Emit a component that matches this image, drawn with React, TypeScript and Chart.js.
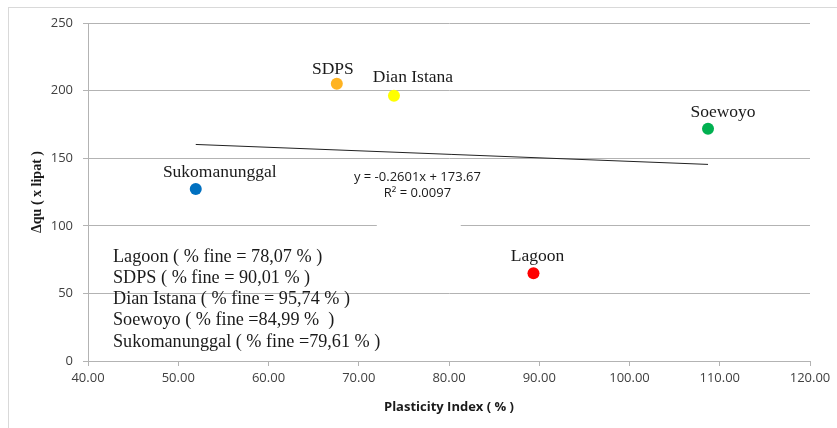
import React, { useEffect, useRef } from "react";
import { Chart, registerables } from "chart.js";

Chart.register(...registerables);

// ---- data ----
const sites = ["Lagoon", "SDPS", "Dian Istana", "Soewoyo", "Sukomanunggal"];
const plasticityIndex = [89.36, 67.57, 73.9, 108.7, 51.94];
const deltaQu = [64.9, 205.0, 196.2, 171.7, 127.3];
const fineNotes = [
  "Lagoon ( % fine = 78,07 % )",
  "SDPS ( % fine = 90,01 % )",
  "Dian Istana ( % fine = 95,74 % )",
  "Soewoyo ( % fine =84,99 %  )",
  "Sukomanunggal ( % fine =79,61 % )",
];
const trendX = [51.94, 108.7];
const trendY = [160.16, 145.4];
const equationLines = ["y = -0.2601x + 173.67", "R\u00B2 = 0.0097"];
const xAxisTitle = "Plasticity Index ( % )";
const yAxisTitle = "\u0394qu ( x lipat )";
const xMin = 40, xMax = 120, xStep = 10;
const yMin = 0, yMax = 250, yStep = 50;

// ---- styles ----
const pointColors = ["#FF0000", "#FFB321", "#FFFF00", "#00B050", "#0070C0"];
const labelOffsets: Record<string, [number, number]> = {
  Lagoon: [4, -17],
  SDPS: [-4, -14],
  "Dian Istana": [19, -18],
  Soewoyo: [15, -16],
  Sukomanunggal: [24, -16],
};
const SERIF = '"Liberation Serif", "Times New Roman", serif';
const SANS = '"Open Sans", Calibri, sans-serif';
const GRID = "#b3b3b3";

const annotPlugin = {
  id: "annot",
  beforeDraw(chart: any) {
    const ctx = chart.ctx;
    ctx.save();
    ctx.fillStyle = "#ffffff";
    ctx.fillRect(0, 0, chart.width, chart.height);
    ctx.strokeStyle = "#d9d9d9";
    ctx.lineWidth = 1;
    ctx.strokeRect(8.5, 7.5, chart.width + 20, chart.height + 20);
    ctx.restore();
  },
  beforeDatasetsDraw(chart: any) {
    const { ctx, scales } = chart;
    const x0 = scales.x.getPixelForValue(72.0);
    const x1 = scales.x.getPixelForValue(81.3);
    const y = scales.y.getPixelForValue(100);
    ctx.save();
    ctx.fillStyle = "#ffffff";
    ctx.fillRect(x0, y - 3, x1 - x0, 6);
    ctx.restore();
  },
  afterDatasetsDraw(chart: any) {
    const { ctx, scales, chartArea } = chart;
    ctx.save();
    // point labels
    ctx.font = `17.5px ${SERIF}`;
    ctx.fillStyle = "#1a1a1a";
    ctx.textAlign = "center";
    ctx.textBaseline = "middle";
    sites.forEach((name, i) => {
      const meta = chart.getDatasetMeta(i);
      const el = meta.data[0];
      const [dx, dy] = labelOffsets[name];
      ctx.fillText(name, el.x + dx, el.y + dy);
    });
    // fine notes
    ctx.font = `18.2px ${SERIF}`;
    ctx.textAlign = "left";
    fineNotes.forEach((t, i) => {
      ctx.fillText(t, chartArea.left + 25, chartArea.top + 234 + i * 21.2);
    });
    // equation
    ctx.font = `13px ${SANS}`;
    ctx.textAlign = "center";
    const ex = scales.x.getPixelForValue(76.5);
    ctx.fillText(equationLines[0], ex, scales.y.getPixelForValue(136.1));
    ctx.fillText(equationLines[1], ex, scales.y.getPixelForValue(124.3));
    ctx.restore();
  },
};

export default function App() {
  const ref = useRef<HTMLCanvasElement>(null);
  useEffect(() => {
    if (!ref.current) return;
    const datasets: any[] = sites.map((name, i) => ({
      type: "scatter",
      label: name,
      data: [{ x: plasticityIndex[i], y: deltaQu[i] }],
      backgroundColor: pointColors[i],
      borderColor: pointColors[i],
      pointRadius: 6,
      pointBorderWidth: 0,
      order: 1,
    }));
    datasets.push({
      type: "scatter",
      label: "Trend",
      data: trendX.map((x, i) => ({ x, y: trendY[i] })),
      showLine: true,
      borderColor: "#222222",
      borderWidth: 1,
      pointRadius: 0,
      order: 2,
    });
    const chart = new Chart(ref.current, {
      type: "scatter",
      data: { datasets },
      plugins: [annotPlugin],
      options: {
        animation: false,
        responsive: false,
        devicePixelRatio: 1,
        layout: { padding: { left: 8, top: 23, right: 27, bottom: 0 } },
        plugins: { legend: { display: false }, tooltip: { enabled: false } },
        scales: {
          x: {
            type: "linear",
            min: xMin,
            max: xMax,
            afterFit: (s: any) => { s.height = 67; },
            ticks: {
              stepSize: xStep,
              color: "#404040",
              font: { family: SANS, size: 13 },
              padding: 4,
              maxRotation: 0,
              callback: (v: any) => Number(v).toFixed(2),
            },
            grid: { drawOnChartArea: false, drawTicks: true, tickLength: 5, color: GRID },
            border: { display: true, color: GRID },
            title: {
              display: true,
              text: xAxisTitle,
              color: "#1a1a1a",
              font: { family: SANS, size: 13, weight: "bold" },
              padding: { top: 0, bottom: 13 },
            },
          },
          y: {
            type: "linear",
            min: yMin,
            max: yMax,
            afterFit: (s: any) => { s.width = 80; },
            ticks: {
              stepSize: yStep,
              color: "#404040",
              font: { family: SANS, size: 13 },
              padding: 10,
            },
            grid: { drawOnChartArea: true, drawTicks: true, tickLength: 5, color: GRID },
            border: { display: true, color: GRID },
            title: {
              display: true,
              text: yAxisTitle,
              color: "#1a1a1a",
              font: { family: SERIF, size: 14, weight: "bold" },
              padding: { top: 21, bottom: 0 },
            },
          },
        },
      } as any,
    });
    return () => chart.destroy();
  }, []);
  return (
    <div style={{ position: "fixed", left: 0, top: 0, width: 837, height: 428 }}>
      <canvas ref={ref} width={837} height={428} style={{ display: "block" }} />
    </div>
  );
}
